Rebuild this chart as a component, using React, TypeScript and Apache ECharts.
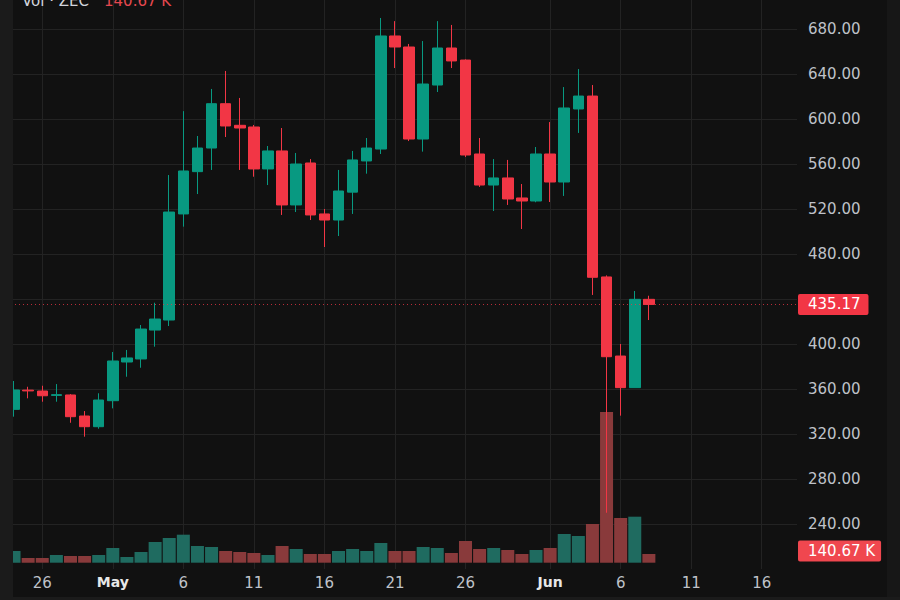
import React, { useEffect, useRef } from 'react';
import * as echarts from 'echarts';

// ---- data ----
const startDateUTC = Date.UTC(2025, 3, 24); // Apr 24
const dayCount = 56;
const categories: string[] = [];
for (let i = 0; i < dayCount; i++) {
  const d = new Date(startDateUTC + i * 86400000);
  const mm = String(d.getUTCMonth() + 1).padStart(2, '0');
  const dd = String(d.getUTCDate()).padStart(2, '0');
  categories.push(`${mm}-${dd}`);
}

const tickDates = ['04-26', '05-01', '05-06', '05-11', '05-16', '05-21', '05-26', '06-01', '06-06', '06-11', '06-16'];
const tickLabels = ['26', 'May', '6', '11', '16', '21', '26', 'Jun', '6', '11', '16'];

const opens = [
  341.9, 359.0, 358.2, 354.3, 354.7, 336.0, 326.5, 349.6, 384.0, 386.7,
  412.4, 421.3, 515.6, 553.2, 574.2, 613.6, 594.4, 592.9, 555.6, 571.6,
  523.6, 560.9, 515.6, 510.2, 535.0, 562.7, 573.3, 673.8, 664.0, 582.2,
  630.2, 663.1, 652.4, 568.9, 541.3, 547.6, 529.8, 527.1, 568.9, 544.0,
  608.9, 620.4, 459.6, 389.3, 361.2, 439.7,
];
const closes = [
  359.1, 358.3, 354.0, 355.0, 335.4, 326.5, 350.2, 384.9, 387.6, 413.3,
  422.2, 517.3, 553.8, 574.2, 613.6, 593.8, 592.0, 555.6, 571.6, 523.6,
  560.0, 514.7, 510.2, 536.0, 563.6, 574.2, 673.8, 664.0, 582.2, 631.1,
  663.1, 651.6, 568.0, 541.3, 547.6, 528.9, 527.1, 568.9, 544.0, 609.8,
  620.4, 459.3, 388.7, 361.2, 439.7, 435.17,
];
const lows = [
  335.4, 351.7, 348.7, 348.7, 330.0, 317.6, 324.7, 342.8, 370.9, 378.9,
  397.6, 416.0, 504.3, 533.3, 554.7, 584.0, 554.7, 548.7, 541.3, 514.7,
  517.3, 510.2, 486.2, 496.0, 515.6, 551.4, 568.9, 645.3, 580.4, 571.0,
  624.0, 645.3, 566.2, 539.6, 518.2, 523.6, 502.2, 526.0, 526.2, 531.6,
  587.6, 443.6, 250.0, 336.3, 361.2, 421.3,
];
const highs = [
  367.1, 362.0, 362.9, 364.4, 355.5, 340.4, 356.2, 392.9, 394.7, 416.9,
  436.7, 550.2, 607.0, 584.9, 626.7, 642.7, 618.7, 594.7, 576.0, 592.0,
  569.8, 564.4, 520.0, 554.7, 571.6, 583.1, 689.8, 687.0, 666.7, 669.3,
  687.0, 683.6, 653.0, 583.1, 564.4, 563.6, 542.2, 575.1, 597.3, 628.4,
  644.4, 630.2, 461.0, 400.0, 447.1, 442.9,
];
// volume in thousands
const volumesK = [
  189, 76, 76, 125, 108, 108, 125, 238, 92, 173,
  335, 399, 453, 270, 254, 189, 173, 157, 125, 270,
  222, 141, 141, 189, 222, 189, 319, 189, 189, 254,
  238, 157, 351, 222, 238, 205, 141, 205, 238, 464,
  432, 626, 2437, 723, 744, 140.67,
];
const lastPrice = 435.17;
const lastVolumeK = 140.67;
const hiddenPriceLabels = [440];

const FONT = 'DejaVu Sans';
const UP = '#089981';
const DOWN = '#f23645';
const VOL_UP = '#1f6b60';
const VOL_DOWN = '#893a3b';
const GRID_LINE = '#232323';
const LABEL = '#bfc2c9';

export default function App() {
  const ref = useRef<HTMLDivElement>(null);
  useEffect(() => {
    if (!ref.current) return;
    const chart = echarts.init(ref.current, undefined, { renderer: 'svg' });
    const isTick = (_i: number, v: string) => tickDates.indexOf(v) >= 0;
    const candleData = opens.map((o, i) => [o, closes[i], lows[i], highs[i]]);
    const volData = volumesK.map((v, i) => ({
      value: v,
      itemStyle: { color: closes[i] >= opens[i] ? VOL_UP : VOL_DOWN },
    }));
    // price scale: 680 at y=29, 240 at y=524 -> 1.125 px per unit; grid from y=0 to y=569
    const priceMin = 200;
    const priceMax = 200 + 569 / 1.125;
    chart.setOption({
      animation: false,
      backgroundColor: '#111111',
      textStyle: { fontFamily: FONT },
      grid: [
        { left: 7, right: 103, top: 0, bottom: 31 },
        { left: 7, right: 103, bottom: 37.3, height: 200 },
      ],
      xAxis: [
        {
          type: 'category',
          gridIndex: 0,
          data: categories,
          boundaryGap: true,
          axisLine: { show: false },
          axisTick: { show: false },
          axisLabel: {
            interval: isTick,
            margin: 6,
            formatter: (v: string) => {
              const k = tickDates.indexOf(v);
              const t = k >= 0 ? tickLabels[k] : '';
              return /^[A-Za-z]/.test(t) ? `{m|${t}}` : `{d|${t}}`;
            },
            rich: {
              d: { color: LABEL, fontSize: 15, fontFamily: FONT },
              m: { color: '#e8e8e8', fontSize: 14, fontWeight: 'bold', fontFamily: FONT },
            },
          },
          splitLine: {
            show: true,
            interval: isTick,
            alignWithLabel: true,
            lineStyle: { color: GRID_LINE, width: 1 },
          },
        },
        { type: 'category', gridIndex: 1, data: categories, boundaryGap: true, show: false },
      ],
      yAxis: [
        {
          type: 'value',
          gridIndex: 0,
          position: 'right',
          min: priceMin,
          max: priceMax,
          interval: 40,
          axisLine: { show: false },
          axisTick: { show: false },
          axisLabel: {
            margin: 11,
            color: LABEL,
            fontSize: 15,
            fontFamily: FONT,
            showMinLabel: false,
            showMaxLabel: false,
            formatter: (v: number) =>
              v <= 200 || v > 700 || hiddenPriceLabels.indexOf(Math.round(v)) >= 0 ? '' : v.toFixed(2),
          },
          splitLine: { show: true, showMinLine: false, showMaxLine: false, lineStyle: { color: GRID_LINE, width: 1 } },
        },
        { type: 'value', gridIndex: 1, min: 0, max: 3234, show: false, splitLine: { show: false } },
      ],
      series: [
        {
          type: 'bar',
          xAxisIndex: 1,
          yAxisIndex: 1,
          data: volData,
          barWidth: 13,
          markLine: {
            silent: true,
            symbol: ['none', 'none'],
            data: [{ yAxis: lastVolumeK }],
            lineStyle: { color: 'rgba(0,0,0,0)', width: 1, type: 'solid' },
            label: {
              show: true,
              position: 'end',
              distance: 1,
              offset: [0, -3],
              formatter: `${lastVolumeK.toFixed(2)} K`,
              color: '#ffffff',
              backgroundColor: '#f0474f',
              padding: [3, 6, 3, 10],
              borderRadius: 2,
              fontSize: 15,
              fontFamily: FONT,
            },
          },
        },
        {
          type: 'candlestick',
          xAxisIndex: 0,
          yAxisIndex: 0,
          data: candleData,
          barWidth: 11,
          itemStyle: {
            color: UP,
            color0: DOWN,
            borderColor: UP,
            borderColor0: DOWN,
            borderWidth: 1,
          },
          markLine: {
            silent: true,
            symbol: ['none', 'none'],
            data: [{ yAxis: lastPrice }],
            lineStyle: { color: 'rgba(242,54,69,0.75)', type: [1, 3], width: 1 },
            label: {
              show: true,
              position: 'end',
              distance: 1,
              formatter: lastPrice.toFixed(2),
              color: '#ffffff',
              backgroundColor: '#f23645',
              padding: [3, 8, 3, 10],
              borderRadius: 2,
              fontSize: 15,
              fontFamily: FONT,
            },
          },
        },
      ],
      graphic: [
        { type: 'rect', shape: { x: 0, y: 0, width: 13, height: 600 }, style: { fill: '#1b1b1b' }, z: 100 },
        { type: 'rect', shape: { x: 887, y: 0, width: 13, height: 600 }, style: { fill: '#171717' }, z: 90 },
        { type: 'rect', shape: { x: 0, y: 597, width: 900, height: 3 }, style: { fill: '#1b1b1b' }, z: 100 },
        {
          type: 'text',
          z: 100,
          style: { x: 22, y: 0.5, text: 'Vol · ZEC', fill: '#d1d4dc', font: `15px "${FONT}"`, verticalAlign: 'middle' },
        },
        {
          type: 'text',
          z: 100,
          style: { x: 104, y: 0.5, text: `${lastVolumeK.toFixed(2)} K`, fill: '#e5484f', font: `15px "${FONT}"`, verticalAlign: 'middle' },
        },
      ],
    });
    return () => chart.dispose();
  }, []);
  return <div ref={ref} style={{ position: 'fixed', left: 0, top: 0, width: 900, height: 600 }} />;
}
